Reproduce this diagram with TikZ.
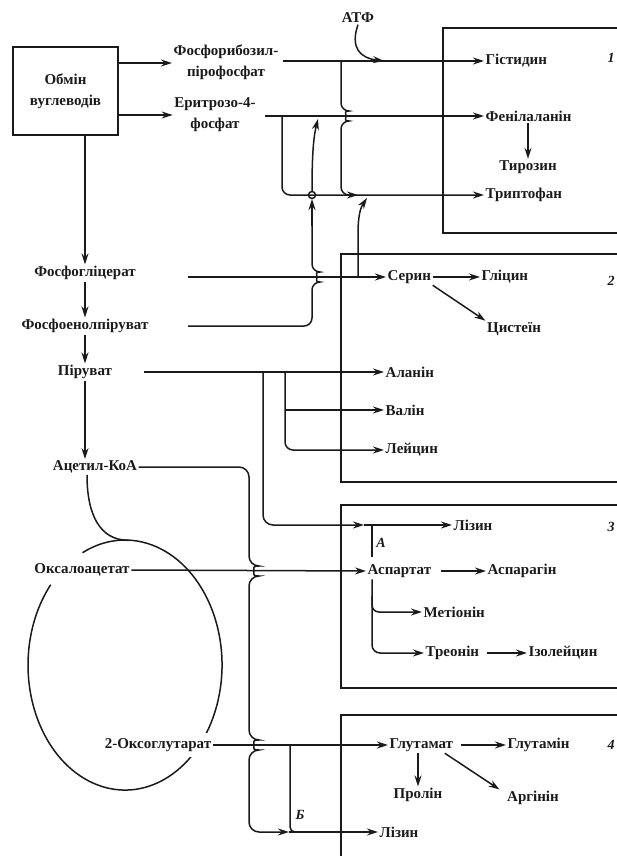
\documentclass[tikz,border=0pt]{standalone}
\usepackage{fontspec}
\setmainfont{Liberation Serif}
\usetikzlibrary{arrows.meta,positioning,calc}
\definecolor{ink}{HTML}{1A1A1A}

\begin{document}
\begin{tikzpicture}[x=1pt,y=-1pt,
  every node/.style={font=\fontsize{15}{21}\selectfont\bfseries,text=ink,inner sep=1.5pt},
  lin/.style={draw=ink,line width=1.5pt},
  arr/.style={lin,-{Stealth[length=11pt,width=7pt]}},
  grp/.style={draw=ink,line width=1.7pt},
  tag/.style={font=\fontsize{14}{16}\selectfont\bfseries\itshape}]
  \useasboundingbox (0,0) rectangle (617,856);

  % групи амінокислот
  \draw[grp] (640,28) -| (443,233) -- (640,233);
  \draw[grp] (640,254) -| (341,482) -- (640,482);
  \draw[grp] (640,505) -| (341,688) -- (640,688);
  \draw[grp] (640,715) -| (341,880);

  % цикл
  \draw[lin] (82.5,552.7) arc[start angle=116,end angle=-220,x radius=97pt,y radius=125pt];

  \node[grp,minimum width=105pt,minimum height=88pt,align=center] (carb) at (65.5,91) {Обмін\\вуглеводів};
  \node[align=center] (prpp) at (226,62) {Фосфорибозил-\\пірофосфат};
  \node[align=center] (e4p) at (215,115) {Еритрозо-4-\\фосфат};
  \node (atp) at (358,18) {АТФ};
  \node (pga) at (85,273) {Фосфогліцерат};
  \node (pep) at (85,326) {Фосфоенолпіруват};
  \node (pyr) at (85,372) {Піруват};
  \node (acoa) at (95,467) {Ацетил-КоА};
  \node[fill=white] (oaa) at (82,570) {Оксалоацетат};
  \node[fill=white,inner ysep=5pt] (akg) at (158,745) {2-Оксоглутарат};

  \foreach \nm/\x/\y/\txt in {his/484/61/Гістидин, phe/484/116/Фенілаланін, trp/484/195/Триптофан,
                             ser/386/277/Серин, gly/480/277/Гліцин, ala/384/372/Аланін,
                             val/384/410/Валін, leu/384/450/Лейцин, lysa/452/525/Лізин,
                             asp/366/571/Аспартат, asn/486/571/Аспарагін, met/422/612/Метіонін,
                             thr/424/653/Треонін, ile/527/653/Ізолейцин, glu/388/745/Глутамат,
                             gln/506/745/Глутамін, lysb/378/832/Лізин}
    \node[anchor=west] (\nm) at (\x,\y) {\txt};
  \node (tyr) at (528,167) {Тирозин};
  \node (cys) at (514,329) {Цистеїн};
  \node (pro) at (418,795) {Пролін};
  \node (arg) at (533,798) {Аргінін};

  \node[tag] (ta) at (381,543) {А};
  \node[tag] (tb) at (300,815) {Б};
  \foreach \n/\y in {1/58,2/281,3/527,4/745}
    \node[tag] (num\n) at (611,\y) {\n};

  % ліва колонка
  \draw[arr] (carb.east |- 0,63) -- (prpp.west |- 0,63);
  \draw[arr] (carb.east |- 0,115) -- (e4p.west |- 0,115);
  \draw[arr] (carb.south -| pga.north) -- (pga.north);
  \draw[arr] (pga.south) -- (pep.north);
  \draw[arr] (pep.south) -- (pyr.north);
  \draw[arr] (pyr.south) -- (pyr.south |- acoa.north);

  % ароматичні
  \coordinate (jhis) at (341,61);
  \coordinate (jphe) at (282,116);
  \draw[arr] ([xshift=3pt]prpp.east |- his.west) -- (his.west);
  \draw[arr] (atp.south) .. controls (350,48) and (360,58) .. (384,61);
  \draw[arr,rounded corners=8pt] (jhis) -- (341,111) arc[start angle=90,end angle=-90,radius=5pt] -- (341,195) -- (358,195);
  \draw[arr] ([xshift=8pt]e4p.east |- phe.west) -- (phe.west);
  \draw[arr,rounded corners=8pt] (jphe) -- (282,195) -- (trp.west);
  \draw[arr] (phe.south -| tyr.north) -- (tyr.north);

  % фосфоенолпіруват
  \draw[lin,rounded corners=8pt] (188,326) -- (312,326) -- (312,282)
    arc[start angle=-90,end angle=90,radius=5pt] -- (312,224);
  \draw[arr] (312,226) -- (312,199);
  \draw[lin] (312,195) circle[radius=3.5pt];
  \draw[arr] (312,191) .. controls (312,150) and (314,135) .. (318,119);

  % фосфогліцерат
  \draw[arr] (188,277) -- (ser.west);
  \draw[arr] (358,277) -- (358,234) .. controls (358,214) and (361,207) .. (367,198);
  \draw[arr] (ser.east) -- (gly.west);
  \draw[arr] (ser.south east) -- (cys.north west);

  % піруват
  \coordinate (jpa) at (263,372);
  \coordinate (jpb) at (285,372);
  \draw[arr] ([xshift=30pt]pyr.east) -- (ala.west);
  \draw[arr,rounded corners=10pt] (jpa) -- (263,525) -- (364,525);
  \draw[arr] (364,525) -- (lysa.west);
  \draw[arr,rounded corners=8pt] (jpb) -- (285,450) -- (leu.west);
  \draw[arr] (285,410) -- (val.west);

  % аспартат
  \draw[lin] (372,557) -- (372,525);
  \draw[arr] (oaa.east) -- (asp.west);
  \draw[arr] ([xshift=8pt]asp.east) -- (asn.west);
  \draw[arr,rounded corners=8pt] (asp.south -| 372,0) -- (372,653) -- (thr.west);
  \draw[arr,rounded corners=7pt] (372,596) -- (372,612) -- (met.west);
  \draw[arr] ([xshift=6pt]thr.east) -- (ile.west);

  % ацетил-КоА
  \draw[lin] (acoa.south -| 87,0) .. controls (87,515) and (100,540) .. (128,540.3);
  \draw[arr,rounded corners=10pt] (acoa.east) -- (249,467) -- (249,566)
    arc[start angle=90,end angle=-90,radius=5pt] -- (249,740)
    arc[start angle=90,end angle=-90,radius=5pt] -- (249,832) -- (289,832);
  \draw[arr] (289,832) -- (lysb.west);

  % 2-оксоглутарат
  \draw[arr] (akg.east) -- (glu.west);
  \draw[lin,rounded corners=5pt] (290,745) -- (290,832) -- (300,832);
  \draw[arr] ([xshift=6pt]glu.east) -- (gln.west);
  \draw[arr] (glu.south -| pro.north) -- (pro.north);
  \draw[arr] ($(glu.south east)+(-10,0)$) -- ($(arg.north west)+(-6,0)$);
\end{tikzpicture}
\end{document}
